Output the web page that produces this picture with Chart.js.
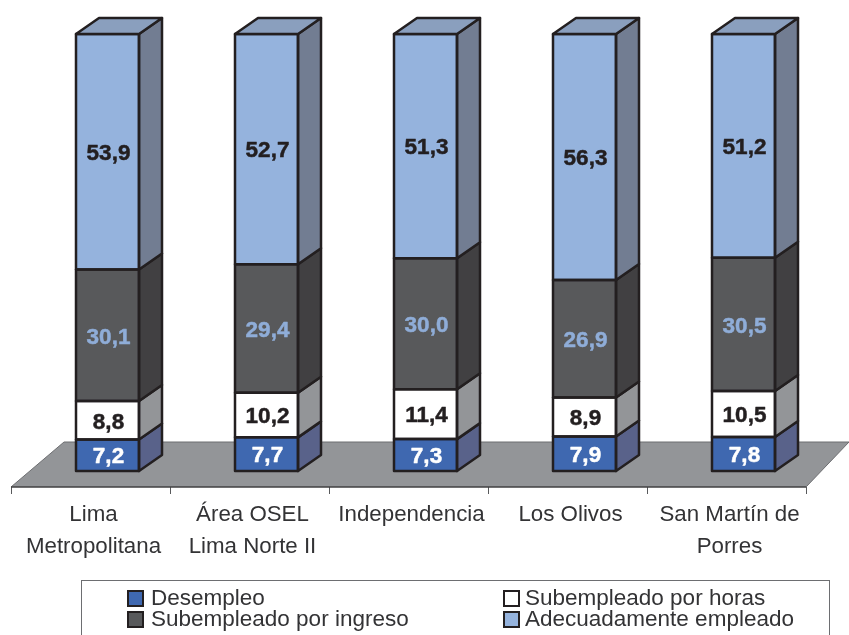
<!DOCTYPE html>
<html><head><meta charset="utf-8">
<style>html,body{margin:0;padding:0;background:#fff}canvas{display:block}</style>
<script src="https://cdn.jsdelivr.net/npm/chart.js@4"></script></head>
<body><canvas id="c" width="849" height="635"></canvas>
<script>
const categories=[["Lima","Metropolitana"],["Área OSEL","Lima Norte II"],"Independencia","Los Olivos",["San Martín de","Porres"]];
const desempleo=[7.2,7.7,7.3,7.9,7.8];
const subHoras=[8.8,10.2,11.4,8.9,10.5];
const subIngreso=[30.1,29.4,30.0,26.9,30.5];
const adecuado=[53.9,52.7,51.3,56.3,51.2];
const names=["Desempleo","Subempleado por horas","Subempleado por ingreso","Adecuadamente empleado"];
const fronts=["#3f68b0","#ffffff","#58595b","#95b3dd"];
const sides=["#59628a","#939598","#414042","#727d92"];
const labelColors=["#ffffff","#231f20","#8fadd8","#231f20"];
const INK="#231f20",DX=23,DY=-16;
const FONT='"Liberation Sans",Arial,sans-serif';
const comma=v=>v.toFixed(1).replace(".",",");

const shape3d={id:"shape3d",
 beforeDatasetsDraw(ch){
  const c=ch.ctx,a=ch.chartArea;
  const step=(a.right-a.left)/categories.length;
  const fl=a.left-17,fr=a.right-17,fy=a.bottom+16,by=a.bottom-29;
  c.save();
  c.fillStyle="#939598";
  c.beginPath();c.moveTo(fl,fy);c.lineTo(fl+53,by);c.lineTo(849,by);c.lineTo(fr,fy);c.closePath();c.fill();
  c.strokeStyle="#6d6e71";c.lineWidth=1;
  c.beginPath();c.moveTo(fl,fy);c.lineTo(fl+53,by);c.lineTo(849,by);c.lineTo(fr,fy);c.stroke();
  c.strokeStyle="#58595b";c.lineWidth=1;
  for(let i=0;i<=categories.length;i++){const t=fl+i*step;c.beginPath();c.moveTo(t+.5,fy);c.lineTo(t+.5,fy+7);c.stroke();}
  c.strokeStyle="#414042";c.lineWidth=1.5;c.beginPath();c.moveTo(fl,fy);c.lineTo(fr,fy);c.stroke();
  c.restore();
 },
 afterDatasetsDraw(ch){
  const c=ch.ctx;c.save();
  c.strokeStyle=INK;c.lineWidth=2.5;c.lineJoin="round";
  ch.data.datasets.forEach((ds,di)=>{
   ch.getDatasetMeta(di).data.forEach(b=>{
    const l=b.x-b.width/2,r=b.x+b.width/2,t=b.y,bt=b.base;
    c.fillStyle=sides[di];
    c.beginPath();c.moveTo(r,t);c.lineTo(r+DX,t+DY);c.lineTo(r+DX,bt+DY);c.lineTo(r,bt);c.closePath();c.fill();c.stroke();
    c.strokeRect(l,t,r-l,bt-t);
    if(di===ch.data.datasets.length-1){
     c.fillStyle="#8a9fbe";
     c.beginPath();c.moveTo(l,t);c.lineTo(l+DX,t+DY);c.lineTo(r+DX,t+DY);c.lineTo(r,t);c.closePath();c.fill();c.stroke();
    }
   });
  });
  c.textAlign="center";c.textBaseline="middle";c.font='bold 22.5px '+FONT;c.lineWidth=0.5;c.lineJoin="round";
  ch.data.datasets.forEach((ds,di)=>{
   c.fillStyle=labelColors[di];c.strokeStyle=labelColors[di];
   ch.getDatasetMeta(di).data.forEach((b,i)=>{
    const s=comma(ds.data[i]),tx=b.x+1,ty=(b.y+b.base)/2+2;
    c.fillText(s,tx,ty);c.strokeText(s,tx,ty);
   });
  });
  c.restore();
 },
 afterDraw(ch){
  const c=ch.ctx;c.save();
  c.strokeStyle="#6d6e71";c.lineWidth=1;c.strokeRect(81.5,580.5,748,60);
  const pos=[[127,590,24],[503,590,22],[127,611,24],[503,611,22]];
  c.font='22.5px '+FONT;c.textBaseline="middle";c.textAlign="left";
  ch.data.datasets.forEach((ds,i)=>{
   const [x,y,g]=pos[i];
   c.fillStyle=fronts[i];c.strokeStyle=INK;c.lineWidth=2;
   c.fillRect(x+1,y+1,15,15);c.strokeRect(x+1,y+1,15,15);
   c.fillStyle="#333335";c.fillText(ds.label,x+g,y+9);
  });
  c.restore();
 }};

new Chart(document.getElementById("c"),{type:"bar",
 data:{labels:categories,datasets:[
  {label:names[0],data:desempleo,backgroundColor:fronts[0]},
  {label:names[1],data:subHoras,backgroundColor:fronts[1]},
  {label:names[2],data:subIngreso,backgroundColor:fronts[2]},
  {label:names[3],data:adecuado,backgroundColor:fronts[3]}]},
 options:{responsive:false,animation:false,
  layout:{padding:{left:28,right:26,top:34,bottom:0}},
  datasets:{bar:{barThickness:63,borderWidth:0}},
  plugins:{legend:{display:false},tooltip:{enabled:false}},
  scales:{
   x:{stacked:true,grid:{display:false},border:{display:false},
    afterFit(s){s.height=164;},
    ticks:{autoSkip:false,maxRotation:0,minRotation:0,padding:20,labelOffset:-14,color:"#333335",font:{family:FONT,size:22.3,lineHeight:1.435}}},
   y:{stacked:true,display:false,min:0,max:100}}},
 plugins:[shape3d]});
</script></body></html>
